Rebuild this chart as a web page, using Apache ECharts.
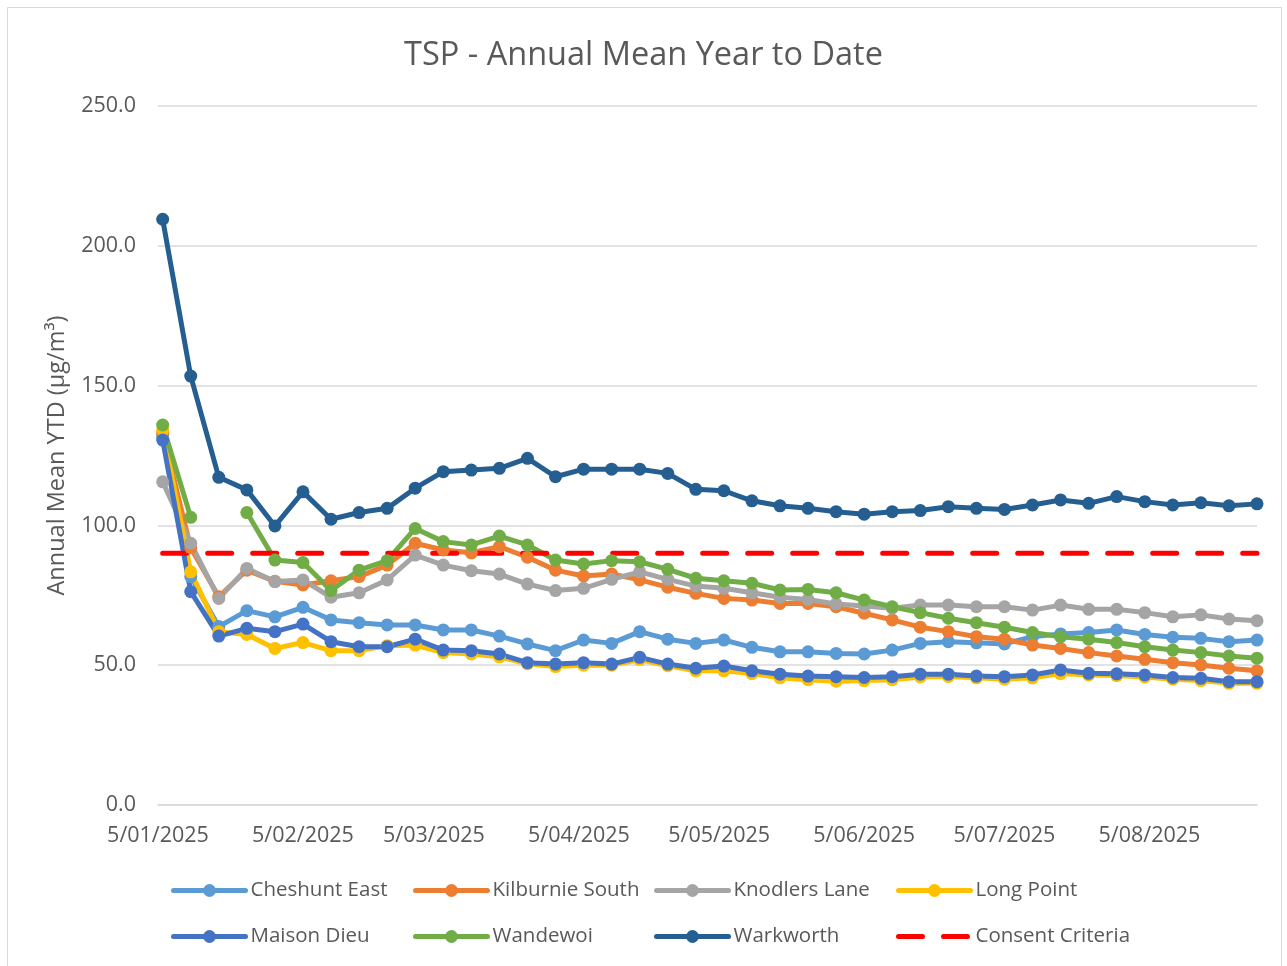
<!DOCTYPE html>
<html>
<head>
<meta charset="utf-8">
<title>TSP - Annual Mean Year to Date</title>
<script src="https://cdn.jsdelivr.net/npm/echarts@6/dist/echarts.min.js"></script>
<style>
  html, body { margin: 0; padding: 0; background: #fff; }
  #chart { width: 1287px; height: 966px; }
</style>
</head>
<body>
<div id="chart"></div>
<script>
// axis runs day by day from 5 Jan 2025, samples every 6 days from 6 Jan
var axisStart = Date.UTC(2025, 0, 5)
var axisDays = 236
var firstSampleDay = 1
var sampleStep = 6

var cheshuntEast = [132.0, 81.7, 63.8, 69.5, 67.3, 70.7, 66.2, 65.2, 64.4, 64.4, 62.6, 62.6, 60.4, 57.6, 55.2, 59.0, 57.8, 62.0, 59.3, 57.8, 59.0, 56.4, 54.8, 54.8, 54.2, 54.0, 55.4, 57.8, 58.4, 58.0, 57.6, 60.2, 61.2, 61.7, 62.6, 61.0, 60.0, 59.6, 58.4, 59.0]
var kilburnieSouth = [133.0, 92.0, 74.5, 84.0, 80.0, 78.7, 80.2, 81.7, 85.8, 93.6, 91.2, 90.2, 92.4, 88.6, 84.0, 81.9, 82.6, 80.5, 77.9, 75.7, 73.9, 73.3, 72.1, 72.1, 70.9, 68.6, 66.2, 63.6, 62.0, 60.2, 59.3, 57.2, 56.0, 54.5, 53.3, 52.1, 50.9, 50.1, 48.9, 48.0]
var knodlersLane = [115.6, 93.6, 73.9, 84.6, 79.9, 80.5, 74.3, 75.9, 80.5, 89.4, 85.8, 83.8, 82.6, 79.0, 76.7, 77.5, 80.7, 83.4, 80.7, 78.3, 77.5, 75.9, 74.3, 73.5, 71.9, 71.2, 70.4, 71.5, 71.5, 70.9, 70.9, 69.7, 71.5, 70.0, 70.0, 68.8, 67.3, 68.0, 66.5, 65.9]
var longPoint = [134.1, 83.4, 62.0, 61.0, 56.0, 58.1, 55.2, 55.2, 57.0, 57.2, 54.5, 54.0, 53.0, 50.5, 49.5, 50.0, 50.0, 52.0, 49.8, 48.0, 48.0, 47.0, 45.5, 44.8, 44.3, 44.5, 44.8, 45.8, 46.0, 45.5, 45.0, 45.5, 47.0, 46.5, 46.3, 45.8, 45.0, 44.5, 43.5, 43.5]
var maisonDieu = [130.5, 76.3, 60.4, 63.2, 62.0, 64.7, 58.4, 56.6, 56.6, 59.3, 55.4, 55.2, 54.0, 50.9, 50.4, 50.9, 50.4, 52.8, 50.4, 48.9, 49.7, 48.0, 46.8, 46.1, 45.9, 45.6, 45.9, 46.8, 46.8, 46.1, 45.9, 46.5, 48.3, 47.1, 46.9, 46.5, 45.6, 45.3, 44.1, 44.1]
var wandewoi = [135.9, 102.9, null, 104.6, 87.6, 86.7, 76.7, 84.0, 87.4, 98.9, 94.2, 93.0, 96.2, 93.0, 87.6, 86.2, 87.4, 87.0, 84.3, 81.1, 80.2, 79.3, 76.9, 77.1, 75.9, 73.3, 70.9, 68.8, 66.8, 65.2, 63.6, 61.7, 60.2, 59.3, 58.1, 56.6, 55.4, 54.5, 53.3, 52.5]
var warkworth = [209.5, 153.4, 117.2, 112.7, 99.8, 112.0, 102.2, 104.6, 106.1, 113.3, 119.2, 119.8, 120.4, 124.0, 117.4, 120.1, 120.1, 120.1, 118.6, 112.9, 112.4, 108.8, 107.0, 106.1, 104.9, 104.0, 104.9, 105.3, 106.7, 106.1, 105.7, 107.3, 109.1, 107.9, 110.3, 108.5, 107.3, 108.1, 107.0, 107.7]
var consentCriteria = 90

var siteNames = ['Cheshunt East', 'Kilburnie South', 'Knodlers Lane', 'Long Point', 'Maison Dieu', 'Wandewoi', 'Warkworth']
var siteValues = [cheshuntEast, kilburnieSouth, knodlersLane, longPoint, maisonDieu, wandewoi, warkworth]
var siteColors = ['#5B9BD5', '#ED7D31', '#A5A5A5', '#FFC000', '#4472C4', '#70AD47', '#255E91']

var days = []
var dayOfMonth = []
for (var i = 0; i < axisDays; i++) {
  var d = new Date(axisStart + i * 86400000)
  var mm = d.getUTCMonth() + 1
  days.push(d.getUTCDate() + '/' + (mm < 10 ? '0' + mm : mm) + '/' + d.getUTCFullYear())
  dayOfMonth.push(d.getUTCDate())
}

function toPoints(values) {
  return values.map(function(v, j) {
    return [firstSampleDay + j * sampleStep, v === null ? '-' : v]
  })
}

var textColor = '#595959'
var gridColor = '#D9D9D9'
var font = 'Open Sans'

var series = siteNames.map(function(name, k) {
  return {
    name: name,
    type: 'line',
    data: toPoints(siteValues[k]),
    symbol: 'circle',
    symbolSize: 13,
    showAllSymbol: true,
    color: siteColors[k],
    lineStyle: { width: 5, color: siteColors[k], cap: 'round', join: 'round' },
    itemStyle: { color: siteColors[k] },
    connectNulls: false,
    animation: false
  }
})

series.push({
  name: 'Consent Criteria',
  type: 'line',
  data: warkworth.map(function(v, j) { return [firstSampleDay + j * sampleStep, consentCriteria] }),
  symbol: 'none',
  color: '#FF0000',
  lineStyle: { width: 5, color: '#FF0000', type: [24, 21], cap: 'round' },
  animation: false
})

// legend laid out as a 4 x 2 grid, one legend per entry
var legendNames = siteNames.concat(['Consent Criteria'])
var legendCols = [171, 413, 654, 896]
var legendRows = [880, 926]
var legends = legendNames.map(function(name, k) {
  var entry = name === 'Consent Criteria' ? { name: name, itemStyle: { opacity: 0 } } : { name: name }
  return {
    data: [entry],
    left: legendCols[k % 4],
    top: legendRows[Math.floor(k / 4)],
    padding: 0,
    itemWidth: 72,
    itemHeight: 16,
    itemGap: 0,
    lineStyle: { width: 5 },
    textStyle: { color: textColor, fontSize: 20.5, fontFamily: font }
  }
})

var chart = echarts.init(document.getElementById('chart'))
chart.setOption({
  backgroundColor: '#fff',
  title: {
    text: 'TSP - Annual Mean Year to Date',
    left: 'center',
    top: 34,
    textStyle: { color: textColor, fontSize: 32.5, fontWeight: 'normal', fontFamily: font }
  },
  graphic: [{
    type: 'rect',
    shape: { x: 7.5, y: 7.5, width: 1274, height: 970 },
    style: { fill: 'none', stroke: gridColor, lineWidth: 1 },
    silent: true
  }],
  grid: { left: 158, right: 30, top: 106, bottom: 161 },
  legend: legends,
  xAxis: {
    type: 'category',
    data: days,
    boundaryGap: false,
    axisLine: { lineStyle: { color: gridColor, width: 1.5 } },
    axisTick: { show: false },
    axisLabel: {
      color: textColor,
      fontSize: 21.5,
      fontFamily: font,
      margin: 20,
      interval: function(index) { return dayOfMonth[index] === 5 }
    },
    splitLine: { show: false }
  },
  yAxis: {
    type: 'value',
    min: 0,
    max: 250,
    interval: 50,
    name: 'Annual Mean YTD (µg/m³)',
    nameLocation: 'middle',
    nameGap: 89,
    nameTextStyle: { color: textColor, fontSize: 23.5, fontFamily: font },
    axisLine: { show: false },
    axisTick: { show: false },
    axisLabel: {
      color: textColor,
      fontSize: 21.5,
      fontFamily: font,
      margin: 22,
      formatter: function(v) { return v.toFixed(1) }
    },
    splitLine: { lineStyle: { color: gridColor, width: 1.5 } }
  },
  series: series
})
</script>
</body>
</html>
